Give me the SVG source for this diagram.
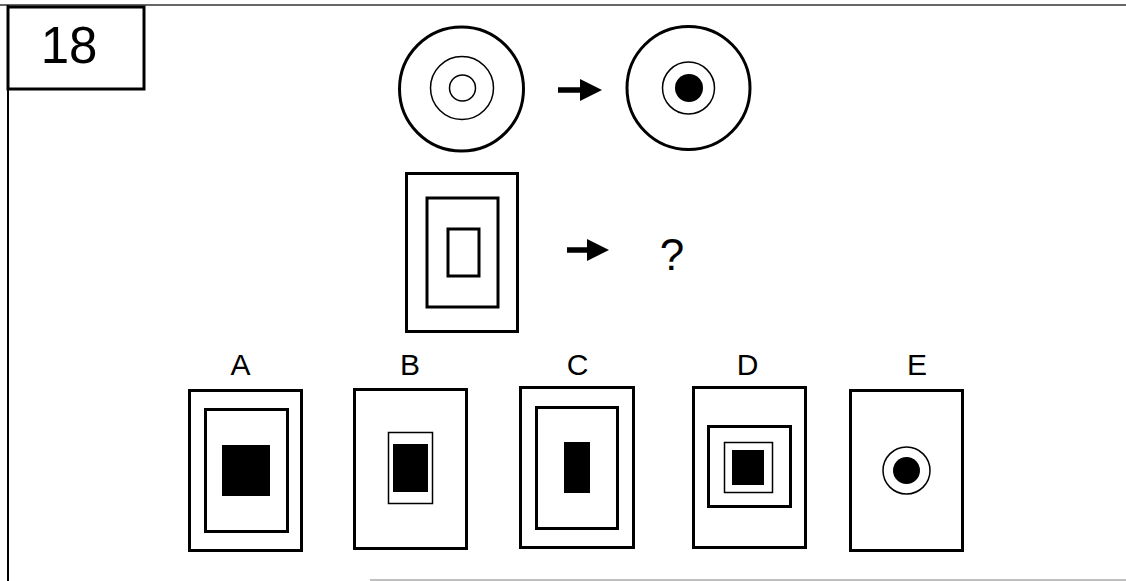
<svg xmlns="http://www.w3.org/2000/svg" width="1126" height="581" viewBox="0 0 1126 581">
<style>
.thick{fill:none;stroke:#000;stroke-width:3}
.mid{fill:none;stroke:#000;stroke-width:2}
.thin{fill:none;stroke:#000;stroke-width:1.5}
.solid{fill:#000;stroke:none}
.lbl{font-family:"Liberation Sans",Arial,sans-serif;fill:#000;text-anchor:middle}
</style>
<defs>
<marker id="ah" markerWidth="4" markerHeight="4" refX="0" refY="2" orient="auto" markerUnits="strokeWidth">
<path d="M0,0 L4,2 L0,4 z" fill="#000"/>
</marker>
</defs>
<rect width="1126" height="581" fill="#fff"/>
<g id="frame">
<line x1="0" y1="5" x2="1126" y2="5" stroke="#666" stroke-width="2"/>
<line x1="8" y1="5" x2="8" y2="581" stroke="#000" stroke-width="2"/>
<line x1="370" y1="580" x2="1126" y2="580" stroke="#aaa" stroke-width="1.5"/>
</g>
<g id="number">
<rect x="8" y="7" width="136" height="82" fill="#fff" stroke="#000" stroke-width="3"/>
<text class="lbl" x="69" y="63" font-size="51">18</text>
</g>
<g id="circle-left">
<circle cx="461.5" cy="89" r="62" class="thick"/>
<circle cx="462" cy="88" r="31.5" class="thin"/>
<circle cx="462.5" cy="88" r="13" class="thin"/>
</g>
<g id="circle-right">
<circle cx="688.5" cy="88" r="61.5" class="thick"/>
<circle cx="688.5" cy="88" r="26" class="thin"/>
<circle cx="689" cy="88" r="14" class="solid"/>
</g>
<g id="rect-question">
<rect x="406.5" y="173.5" width="111" height="158" class="thick"/>
<rect x="427" y="198" width="71" height="109" class="thick"/>
<rect x="448" y="229" width="31" height="47" class="thick"/>
</g>
<g id="question">
<text class="lbl" x="672" y="270" font-size="44">?</text>
</g>
<g id="connectors">
<line x1="558" y1="90" x2="580" y2="90" stroke="#000" stroke-width="5.5" marker-end="url(#ah)"/>
<line x1="567" y1="250" x2="587" y2="250" stroke="#000" stroke-width="5.5" marker-end="url(#ah)"/>
</g>
<g id="option-A">
<text class="lbl" x="240.5" y="375" font-size="30">A</text>
<rect x="189.5" y="390.5" width="112" height="160" class="thick"/>
<rect x="205.5" y="409.5" width="82" height="122" class="thick"/>
<rect x="222" y="445" width="48" height="51" class="solid"/>
</g>
<g id="option-B">
<text class="lbl" x="410" y="375" font-size="30">B</text>
<rect x="354.5" y="389.5" width="112" height="159" class="thick"/>
<rect x="388.5" y="432.5" width="44" height="71" class="thin"/>
<rect x="393" y="444" width="35" height="48" class="solid"/>
</g>
<g id="option-C">
<text class="lbl" x="577.5" y="375" font-size="30">C</text>
<rect x="520.5" y="387.5" width="113" height="160" class="thick"/>
<rect x="536.5" y="407.5" width="81" height="121" class="thick"/>
<rect x="564" y="442" width="26" height="51" class="solid"/>
</g>
<g id="option-D">
<text class="lbl" x="747.5" y="375" font-size="30">D</text>
<rect x="693.5" y="387.5" width="112" height="160" class="thick"/>
<rect x="708.5" y="426.5" width="82" height="80" class="thick"/>
<rect x="724.5" y="442.5" width="48" height="50" class="thin"/>
<rect x="732" y="450" width="32" height="35" class="solid"/>
</g>
<g id="option-E">
<text class="lbl" x="917" y="375" font-size="30">E</text>
<rect x="850.5" y="390.5" width="112" height="160" class="thick"/>
<circle cx="906.5" cy="470.5" r="23.5" class="thin"/>
<circle cx="906.5" cy="470.5" r="13.5" class="solid"/>
</g>
</svg>
